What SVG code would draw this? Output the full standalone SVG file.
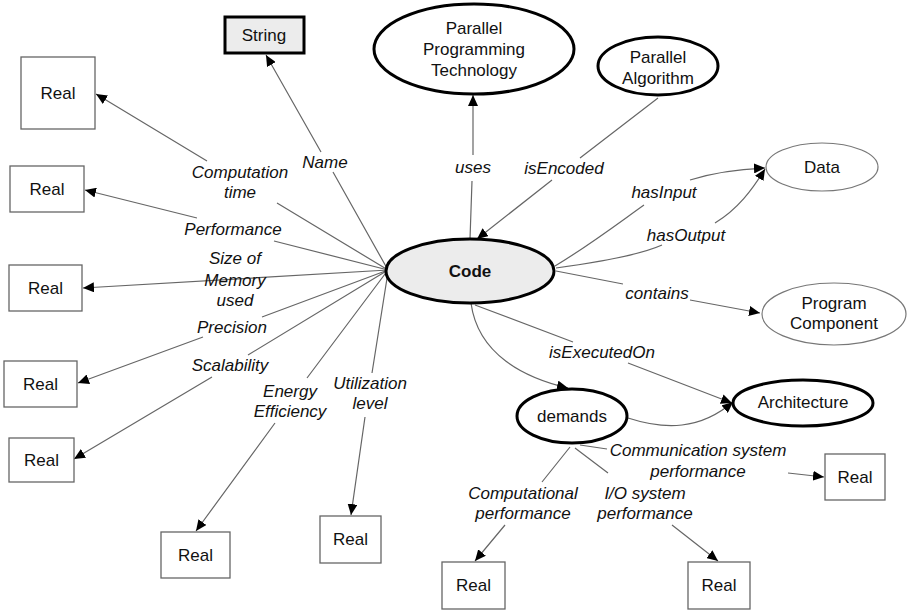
<svg xmlns="http://www.w3.org/2000/svg" width="907" height="610" viewBox="0 0 907 610">
<defs>
<marker id="arr" markerUnits="userSpaceOnUse" markerWidth="12" markerHeight="10" refX="11" refY="5" orient="auto">
<path d="M0,0 L11,5 L0,10 z" fill="#000"/>
</marker>
<style>
.t{font-family:"Liberation Sans",Arial,sans-serif;font-size:17px;fill:#111;text-anchor:middle}
.b{font-weight:bold}
.l{font-family:"Liberation Sans",Arial,sans-serif;font-size:17px;font-style:italic;fill:#111;text-anchor:middle}
.box{fill:#fff;stroke:#666;stroke-width:1.3}
.thick{fill:#fff;stroke:#000;stroke-width:3}
.thin{fill:#fff;stroke:#777;stroke-width:1.2}
.e{fill:none;stroke:#666;stroke-width:1.2}
.ea{fill:none;stroke:#666;stroke-width:1.2;marker-end:url(#arr)}
</style>
</defs>
<rect width="907" height="610" fill="#fff"/>

<g id="connectors">
<path class="ea" d="M388,270 L333,172 M321,152 L266,55"/>
<path class="ea" d="M388,270 L277,203 M207,161 L96,94"/>
<path class="ea" d="M388,270 L274,241 M197,218 L85,190"/>
<path class="ea" d="M388,270 L83,288"/>
<path class="ea" d="M388,270 L262,317 M203,337 L78,383"/>
<path class="ea" d="M388,270 L248,355 M212,377 L74,459"/>
<path class="ea" d="M388,270 L307,378 M275,423 L196,531"/>
<path class="ea" d="M388,272 L372,373 M365,417 L351,515"/>
<path class="ea" d="M470,239 L472,181 M473,155 L473,95"/>
<path class="ea" d="M658,98 L580,158 M552,180 L477,239"/>
<path class="e" d="M555,266 C590,245 620,222 644,205"/>
<path class="ea" d="M690,180 C715,172 740,169 765,168"/>
<path class="e" d="M556,268 C600,262 640,255 662,245"/>
<path class="ea" d="M715,223 C738,209 752,190 765,169"/>
<path class="ea" d="M556,271 L623,284 M690,300 L760,313"/>
<path class="ea" d="M475,305 L573,342 M628,363 L732,403"/>
<path class="ea" d="M471,303 C478,355 525,378 568,388"/>
<path class="ea" d="M628,418 C665,430 700,430 733,402"/>
<path class="e" d="M580,445 L607,449"/>
<path class="ea" d="M788,473 L824,477"/>
<path class="ea" d="M570,447 L542,482 M505,525 L475,561"/>
<path class="ea" d="M575,448 L608,473 M672,525 L718,561"/>
</g>

<g id="labels">
<text class="l" x="325" y="168">Name</text>
<text class="l" x="473" y="173">uses</text>
<text class="l" x="564" y="174">isEncoded</text>
<text class="l" x="240" y="178">Computation</text>
<text class="l" x="240" y="198">time</text>
<text class="l" x="233" y="235">Performance</text>
<text class="l" x="235" y="264">Size of</text>
<text class="l" x="235" y="286">Memory</text>
<text class="l" x="235" y="306">used</text>
<text class="l" x="232" y="333">Precision</text>
<text class="l" x="230" y="371">Scalability</text>
<text class="l" x="290" y="397">Energy</text>
<text class="l" x="290" y="417">Efficiency</text>
<text class="l" x="370" y="389">Utilization</text>
<text class="l" x="370" y="409">level</text>
<text class="l" x="664" y="198">hasInput</text>
<text class="l" x="686" y="241">hasOutput</text>
<text class="l" x="657" y="299">contains</text>
<text class="l" x="602" y="358">isExecutedOn</text>
<text class="l" x="698" y="456">Communication system</text>
<text class="l" x="698" y="477">performance</text>
<text class="l" x="523" y="499">Computational</text>
<text class="l" x="523" y="519">performance</text>
<text class="l" x="645" y="499">I/O system</text>
<text class="l" x="645" y="519">performance</text>
</g>

<g id="code"><ellipse cx="470" cy="271" rx="84" ry="32" fill="#ececec" stroke="#000" stroke-width="3"/><text class="t b" x="470" y="277">Code</text></g>
<g id="string"><rect x="225" y="17" width="79" height="36" fill="#ececec" stroke="#000" stroke-width="3"/><text class="t" x="264" y="41">String</text></g>
<g id="ppt"><ellipse class="thick" cx="474" cy="49" rx="100" ry="45"/><text class="t" x="474" y="34">Parallel</text><text class="t" x="474" y="55">Programming</text><text class="t" x="474" y="76">Technology</text></g>
<g id="palg"><ellipse class="thick" cx="658" cy="66" rx="60" ry="29"/><text class="t" x="658" y="63">Parallel</text><text class="t" x="658" y="84">Algorithm</text></g>
<g id="data"><ellipse class="thin" cx="822" cy="167" rx="56" ry="24"/><text class="t" x="822" y="173">Data</text></g>
<g id="progcomp"><ellipse class="thin" cx="834" cy="314" rx="72" ry="31"/><text class="t" x="834" y="309">Program</text><text class="t" x="834" y="329">Component</text></g>
<g id="architecture"><ellipse class="thick" cx="803" cy="403" rx="70" ry="23"/><text class="t" x="803" y="408">Architecture</text></g>
<g id="demands"><ellipse class="thick" cx="572" cy="416" rx="55" ry="27"/><text class="t" x="572" y="422">demands</text></g>

<g id="real1"><rect class="box" x="21" y="57" width="74" height="72"/><text class="t" x="58" y="99">Real</text></g>
<g id="real2"><rect class="box" x="10" y="166" width="74" height="46"/><text class="t" x="47" y="195">Real</text></g>
<g id="real3"><rect class="box" x="9" y="265" width="73" height="46"/><text class="t" x="45.5" y="294">Real</text></g>
<g id="real4"><rect class="box" x="4" y="361" width="73" height="46"/><text class="t" x="40.5" y="390">Real</text></g>
<g id="real5"><rect class="box" x="9" y="438" width="65" height="44"/><text class="t" x="41.5" y="466">Real</text></g>
<g id="real6"><rect class="box" x="161" y="532" width="69" height="46"/><text class="t" x="195.5" y="561">Real</text></g>
<g id="real7"><rect class="box" x="320" y="516" width="61" height="47"/><text class="t" x="350.5" y="545">Real</text></g>
<g id="real8"><rect class="box" x="442" y="562" width="63" height="47"/><text class="t" x="473.5" y="591">Real</text></g>
<g id="real9"><rect class="box" x="688" y="562" width="62" height="47"/><text class="t" x="719" y="591">Real</text></g>
<g id="real10"><rect class="box" x="825" y="454" width="60" height="46"/><text class="t" x="855" y="483">Real</text></g>
</svg>
